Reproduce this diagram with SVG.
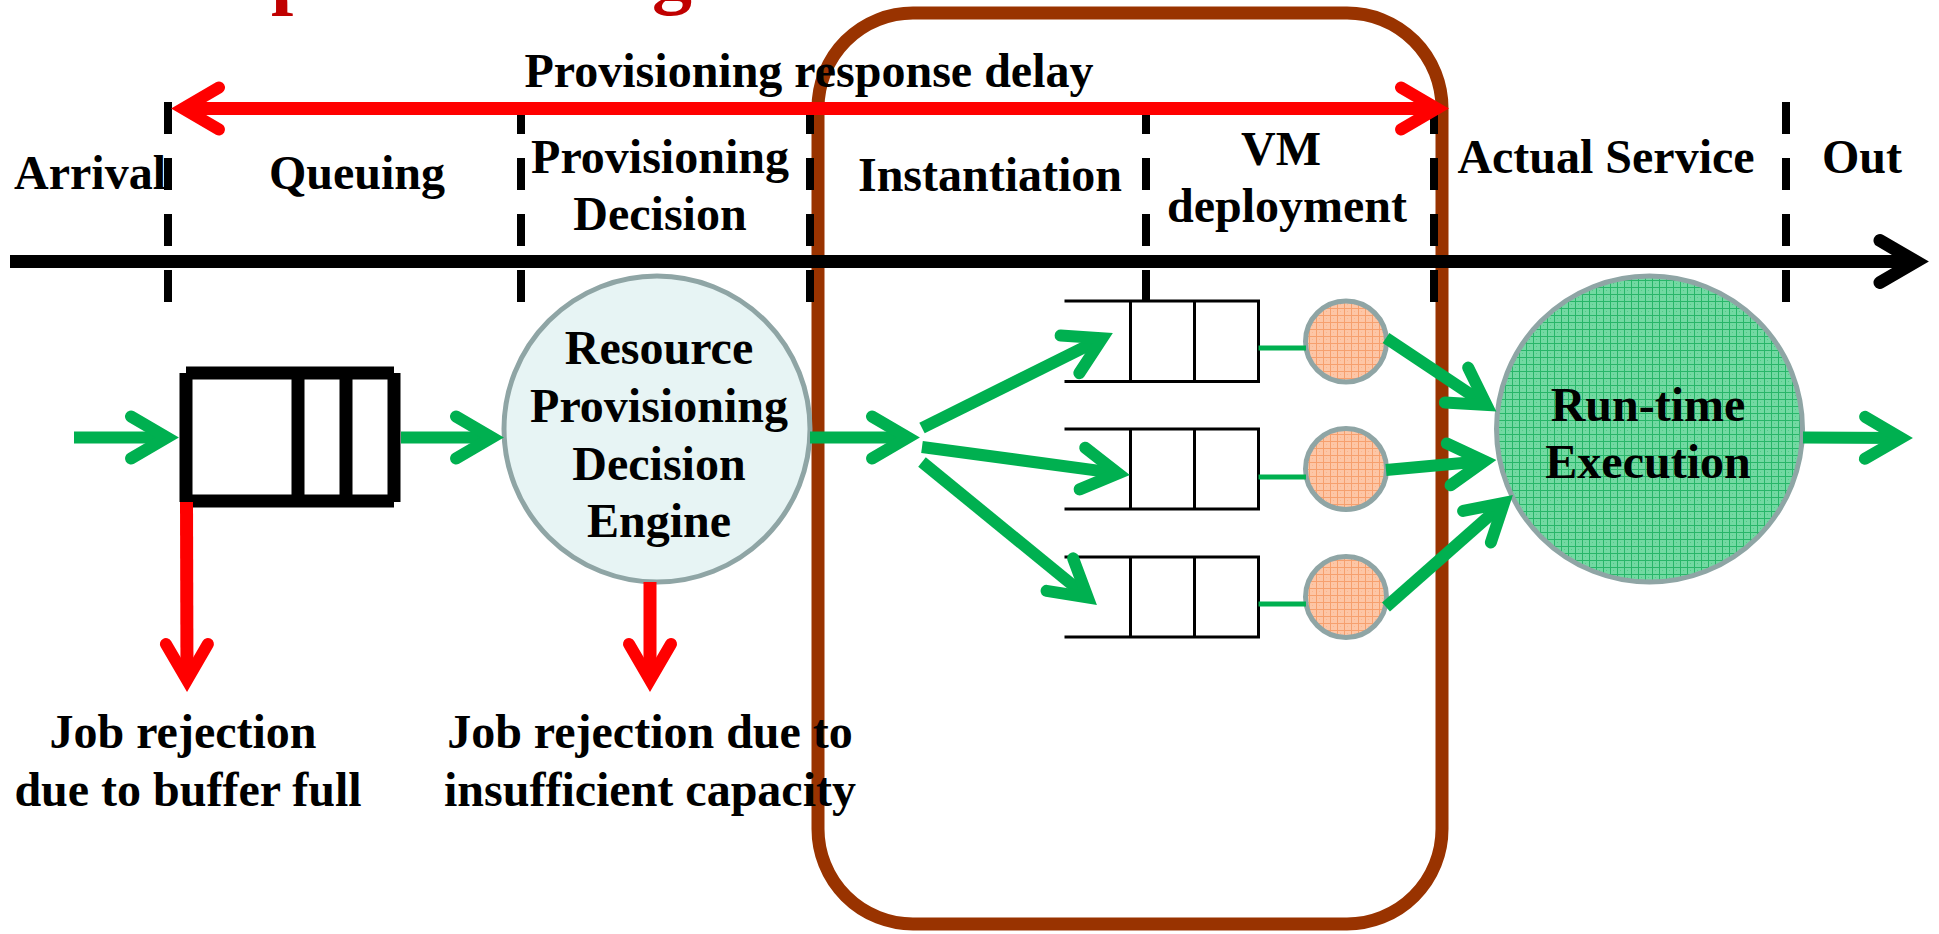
<svg xmlns="http://www.w3.org/2000/svg" width="1939" height="934" viewBox="0 0 1939 934">
  <style>
    .lbl { font-family: "Liberation Serif", "Times New Roman", serif; font-weight: bold; font-size: 48px; fill: #000; text-anchor: middle; }
    .title { font-family: "Liberation Serif", "Times New Roman", serif; font-weight: bold; font-size: 80px; fill: #C00000; }
    .dash { stroke: #000; stroke-width: 8; stroke-dasharray: 32 24; fill: none; }
    .green { stroke: #00B050; stroke-width: 12; fill: none; stroke-linecap: butt; }
    .red { stroke: #FF0000; stroke-width: 13; fill: none; stroke-linecap: butt; }
    .thin-green { stroke: #00B050; stroke-width: 5; fill: none; }
    .bigq { stroke: #000; stroke-width: 13; fill: none; stroke-linecap: butt; }
    .smallq { stroke: #000; stroke-width: 3; fill: none; stroke-linecap: square; }
    .ring { stroke: #8FA5A5; stroke-width: 5; }
  </style>
  <defs>
    <marker id="headGreen" markerUnits="userSpaceOnUse" orient="auto" refX="0" refY="0" markerWidth="10" markerHeight="10" overflow="visible">
      <path d="M -36,-21 L 0,0 L -36,21" fill="none" stroke="#00B050" stroke-width="12" stroke-linecap="round" stroke-linejoin="miter" stroke-miterlimit="10"/>
    </marker>
    <marker id="headRed" markerUnits="userSpaceOnUse" orient="auto-start-reverse" refX="0" refY="0" markerWidth="10" markerHeight="10" overflow="visible">
      <path d="M -36,-21 L 0,0 L -36,21" fill="none" stroke="#FF0000" stroke-width="12" stroke-linecap="round" stroke-linejoin="miter" stroke-miterlimit="10"/>
    </marker>
    <marker id="headBlack" markerUnits="userSpaceOnUse" orient="auto" refX="0" refY="0" markerWidth="10" markerHeight="10" overflow="visible">
      <path d="M -36,-21 L 0,0 L -36,21" fill="none" stroke="#000" stroke-width="13" stroke-linecap="round" stroke-linejoin="miter" stroke-miterlimit="10"/>
    </marker>
    <pattern id="gridOrange" patternUnits="userSpaceOnUse" width="7" height="7">
      <rect width="7" height="7" fill="#FDC6A6"/>
      <path d="M 0,0.5 H 7 M 0.5,0 V 7" stroke="#F6A06E" stroke-width="1"/>
      <rect x="3" y="3" width="1" height="1" fill="#FBB68E"/>
    </pattern>
    <pattern id="gridGreen" patternUnits="userSpaceOnUse" width="7" height="7">
      <rect width="7" height="7" fill="#72D9A2"/>
      <path d="M 0,0.5 H 7 M 0.5,0 V 7" stroke="#28B669" stroke-width="1"/>
      <rect x="3" y="3" width="1" height="1" fill="#52CB88"/>
    </pattern>
  </defs>

  <!-- red heading, cut at the top edge -->
  <g id="heading">
    <text class="title" x="271" y="-1">p</text>
    <text class="title" x="652" y="-1">g</text>
  </g>

  <!-- brown frame around instantiation and VM deployment -->
  <rect id="provisioning-frame" x="818" y="13" width="624" height="911" rx="95" ry="95" fill="none" stroke="#993300" stroke-width="13"/>

  <!-- stage separators -->
  <g id="separators">
    <line class="dash" x1="168" y1="102" x2="168" y2="302"/>
    <line class="dash" x1="521" y1="102" x2="521" y2="302"/>
    <line class="dash" x1="810" y1="102" x2="810" y2="302"/>
    <line class="dash" x1="1146" y1="102" x2="1146" y2="302"/>
    <line class="dash" x1="1434" y1="102" x2="1434" y2="302"/>
    <line class="dash" x1="1786" y1="102" x2="1786" y2="302"/>
  </g>

  <!-- stage labels -->
  <g id="stage-labels">
    <text class="lbl" x="809" y="87">Provisioning response delay</text>
    <text class="lbl" x="90" y="189">Arrival</text>
    <text class="lbl" x="357" y="189">Queuing</text>
    <text class="lbl" x="660" y="173">Provisioning</text>
    <text class="lbl" x="660" y="230">Decision</text>
    <text class="lbl" x="990" y="191">Instantiation</text>
    <text class="lbl" x="1281" y="165">VM</text>
    <text class="lbl" x="1287" y="222">deployment</text>
    <text class="lbl" x="1606" y="173">Actual Service</text>
    <text class="lbl" x="1862" y="173">Out</text>
  </g>

  <!-- time axis -->
  <g id="time-axis">
    <line x1="10" y1="261.5" x2="1916" y2="261.5" stroke="#000" stroke-width="13" marker-end="url(#headBlack)"/>
  </g>

  <!-- job buffer -->
  <g id="job-buffer">
    <line class="bigq" x1="186" y1="373" x2="394" y2="373"/>
    <line class="bigq" x1="186" y1="501" x2="394" y2="501"/>
    <line class="bigq" x1="186" y1="373" x2="186" y2="502"/>
    <line class="bigq" x1="394" y1="373" x2="394" y2="502"/>
    <line class="bigq" x1="298" y1="373" x2="298" y2="501"/>
    <line class="bigq" x1="346" y1="373" x2="346" y2="501"/>
  </g>

  <!-- decision engine -->
  <g id="decision-engine">
    <circle class="ring" cx="657" cy="429" r="153" fill="#E7F4F4"/>
    <text class="lbl" x="659" y="364">Resource</text>
    <text class="lbl" x="659" y="422">Provisioning</text>
    <text class="lbl" x="659" y="480">Decision</text>
    <text class="lbl" x="659" y="537">Engine</text>
  </g>

  <!-- VM queues -->
  <g id="vm-queue-1">
    <path class="smallq" d="M 1066,301 H 1258.5 M 1066,381.5 H 1258.5 M 1130.5,301 V 381.5 M 1194.5,301 V 381.5 M 1258.5,301 V 381.5"/>
  </g>
  <g id="vm-queue-2">
    <path class="smallq" d="M 1066,429 H 1258.5 M 1066,509 H 1258.5 M 1130.5,429 V 509 M 1194.5,429 V 509 M 1258.5,429 V 509"/>
  </g>
  <g id="vm-queue-3">
    <path class="smallq" d="M 1066,557 H 1258.5 M 1066,637 H 1258.5 M 1130.5,557 V 637 M 1194.5,557 V 637 M 1258.5,557 V 637"/>
  </g>

  <!-- VM servers -->
  <g id="vm-1"><circle class="ring" cx="1346" cy="341.5" r="40.5" fill="url(#gridOrange)"/></g>
  <g id="vm-2"><circle class="ring" cx="1346" cy="469" r="40.5" fill="url(#gridOrange)"/></g>
  <g id="vm-3"><circle class="ring" cx="1346" cy="597" r="40.5" fill="url(#gridOrange)"/></g>

  <!-- run-time execution -->
  <g id="runtime">
    <circle class="ring" cx="1649.5" cy="429" r="153" fill="url(#gridGreen)"/>
    <text class="lbl" x="1648" y="421">Run-time</text>
    <text class="lbl" x="1648" y="478">Execution</text>
  </g>

  <!-- rejection notes -->
  <g id="rejection-labels">
    <text class="lbl" x="183" y="748">Job rejection</text>
    <text class="lbl" x="188" y="806">due to buffer full</text>
    <text class="lbl" x="650" y="748">Job rejection due to</text>
    <text class="lbl" x="650" y="806">insufficient capacity</text>
  </g>

  <!-- connectors -->
  <g id="connectors">
    <line class="green" x1="74" y1="437.5" x2="167" y2="437.5" marker-end="url(#headGreen)"/>
    <line class="green" x1="401" y1="437.5" x2="492" y2="437.5" marker-end="url(#headGreen)"/>
    <line class="green" x1="810" y1="437.5" x2="908" y2="437.5" marker-end="url(#headGreen)"/>
    <line class="green" x1="922" y1="428" x2="1102.2" y2="338.3" marker-end="url(#headGreen)"/>
    <line class="green" x1="922" y1="447" x2="1118.1" y2="473.4" marker-end="url(#headGreen)"/>
    <line class="green" x1="922" y1="462" x2="1087.7" y2="597.4" marker-end="url(#headGreen)"/>
    <line class="thin-green" x1="1258.5" y1="348" x2="1306" y2="348"/>
    <line class="thin-green" x1="1258.5" y1="477" x2="1306" y2="477"/>
    <line class="thin-green" x1="1258.5" y1="604" x2="1306" y2="604"/>
    <line class="green" x1="1386" y1="338" x2="1486.5" y2="405" marker-end="url(#headGreen)"/>
    <line class="green" x1="1386" y1="470" x2="1484.5" y2="461.1" marker-end="url(#headGreen)"/>
    <line class="green" x1="1386" y1="607" x2="1504" y2="502.9" marker-end="url(#headGreen)"/>
    <line class="green" x1="1803" y1="437.5" x2="1901" y2="438" marker-end="url(#headGreen)"/>
    <line class="red" x1="186.5" y1="502" x2="187" y2="680" marker-end="url(#headRed)"/>
    <line class="red" x1="650" y1="582" x2="650" y2="680" marker-end="url(#headRed)"/>
    <line class="red" x1="183" y1="108.5" x2="1437" y2="108.5" marker-start="url(#headRed)" marker-end="url(#headRed)"/>
  </g>
</svg>
